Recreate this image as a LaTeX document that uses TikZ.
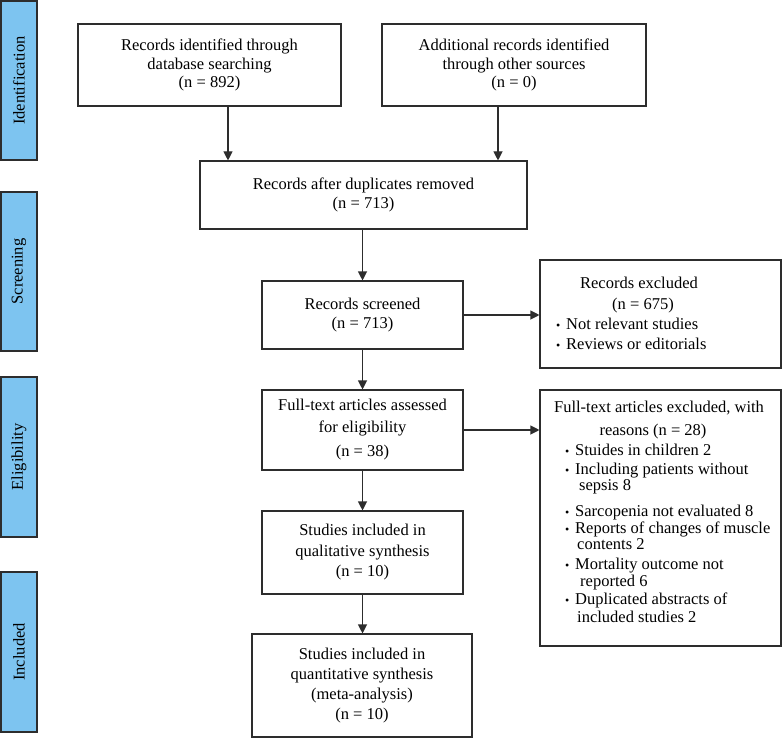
\documentclass[tikz,border=0pt]{standalone}
\usepackage{fontspec}
\setmainfont{Liberation Serif}
\usetikzlibrary{arrows.meta}
\definecolor{barblue}{RGB}{125,196,240}
\definecolor{ln}{RGB}{45,45,45}
\newcommand{\fs}{\fontsize{16.5}{19.5}\selectfont}
\newcommand{\bul}{\makebox[10pt][l]{\fontsize{12}{12}\selectfont\textbullet}}
\begin{document}
\begin{tikzpicture}[x=1pt,y=-1pt,
 box/.style={draw=ln, line width=1.1pt, inner sep=0pt, align=center, font=\fs, text=black},
 bar/.style={draw=ln, fill=barblue, line width=1.1pt, rotate=90, inner sep=0pt, font=\fs},
 arr/.style={draw=ln, line width=1.1pt, -{Triangle[length=9pt,width=9pt]}},
 txt/.style={anchor=mid west, inner sep=0pt, font=\fs},
 ctxt/.style={anchor=mid, inner sep=0pt, font=\fs}]
\useasboundingbox (0,0) rectangle (783,738);
% side bars
\node[bar, minimum width=159pt, minimum height=36pt] (ident) at (19,80.5) {Identification};
\node[bar, minimum width=159pt, minimum height=36pt] (screen) at (19,271.5) {Screening};
\node[bar, minimum width=160pt, minimum height=36pt] (elig) at (19,457) {Eligibility};
\node[bar, minimum width=160pt, minimum height=36pt] (incl) at (19,652) {Included};
% main boxes
\node[box, minimum width=263pt, minimum height=82pt, font=\fontsize{16.5}{18.5}\selectfont] (b1) at (209.5,65)
  {Records identified through\\database searching\\(n = 892)};
\node[box, minimum width=264pt, minimum height=82pt, font=\fontsize{16.5}{18.5}\selectfont] (b2) at (514,65)
  {Additional records identified\\through other sources\\(n = 0)};
\node[box, minimum width=327pt, minimum height=68pt] (b3) at (363.5,195)
  {Records after duplicates removed\\(n = 713)};
\node[box, minimum width=201pt, minimum height=68pt] (b4) at (362.5,315)
  {Records screened\\(n = 713)};
\node[box, minimum width=201pt, minimum height=80pt, font=\fontsize{16.5}{22}\selectfont] (b5) at (362.5,430)
  {Full-text articles assessed\\for eligibility\\[2pt](n = 38)};
\node[box, minimum width=201pt, minimum height=83pt, font=\fontsize{16.5}{20.5}\selectfont] (b6) at (362.5,552.5)
  {Studies included in\\qualitative synthesis\\(n = 10)};
\node[box, minimum width=220pt, minimum height=103pt, font=\fontsize{16.5}{20}\selectfont] (b7) at (362,685.5)
  {Studies included in\\quantitative synthesis\\(meta-analysis)\\(n = 10)};
% exclusion boxes
\node[box, minimum width=241pt, minimum height=108pt] (e1) at (660.5,314) {};
\node[box, minimum width=241pt, minimum height=256pt] (e2) at (660.5,518) {};
% exclusion box texts
\node[ctxt] (e1a) at (639,286) {Records excluded};
\node[ctxt] (e1b) at (643,307) {(n = 675)};
\node[txt] (e1c) at (556,327) {\bul Not relevant studies};
\node[txt] (e1d) at (556,347) {\bul Reviews or editorials};
\node[ctxt] (e2a) at (659,410) {Full-text articles excluded, with};
\node[ctxt] (e2b) at (653,433) {reasons (n = 28)};
\node[txt] (e2c) at (565,453) {\bul Stuides in children 2};
\node[txt] (e2d) at (565,472) {\bul Including patients without};
\node[txt] (e2e) at (579,488) {sepsis 8};
\node[txt] (e2f) at (565,514) {\bul Sarcopenia not evaluated 8};
\node[txt] (e2g) at (565,531) {\bul Reports of changes of muscle};
\node[txt] (e2h) at (577,547) {contents 2};
\node[txt] (e2i) at (565,567) {\bul Mortality outcome not};
\node[txt] (e2j) at (580,584) {reported 6};
\node[txt] (e2k) at (565,602) {\bul Duplicated abstracts of};
\node[txt] (e2l) at (577,620) {included studies 2};
% connectors
\coordinate (c1) at (228,0);
\coordinate (c2) at (498,0);
\draw[arr] (b1.south -| c1) -- (b3.north -| c1);
\draw[arr] (b2.south -| c2) -- (b3.north -| c2);
\draw[arr] (b3.south -| b4.north) -- (b4.north);
\draw[arr] (b4.south) -- (b5.north);
\draw[arr] (b5.south) -- (b6.south |- b6.north);
\draw[arr] (b6.south) -- (b6.south |- b7.north);
\draw[arr] (b4.east) -- (b4.east -| e1.west);
\draw[arr] (b5.east) -- (b5.east -| e2.west);
\end{tikzpicture}
\end{document}
